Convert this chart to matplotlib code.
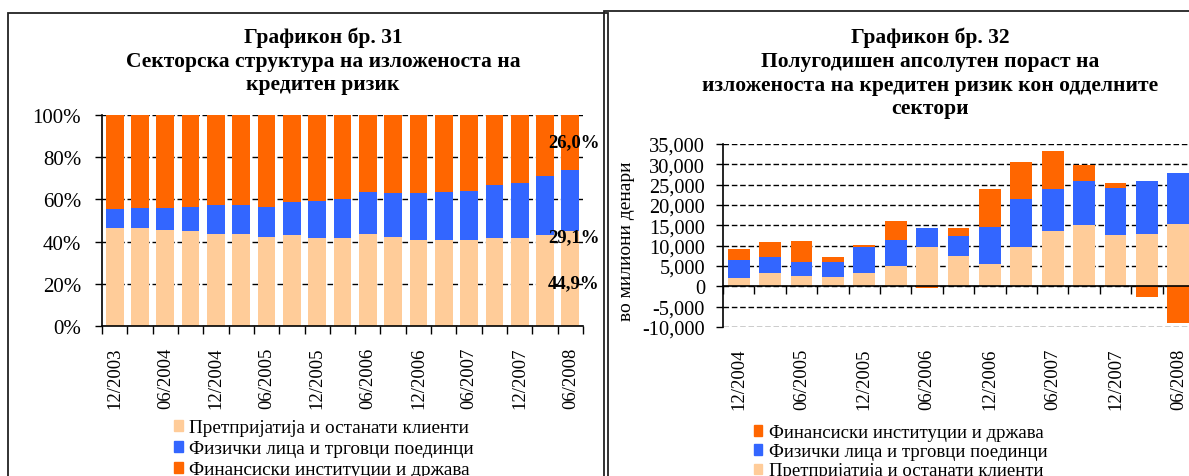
import numpy as np
import matplotlib
matplotlib.use("Agg")
import matplotlib.pyplot as plt
from matplotlib.patches import Rectangle, Patch
from matplotlib.ticker import FixedLocator, FuncFormatter

plt.rcParams['font.family'] = ['Liberation Serif', 'DejaVu Serif']

# ---------------- data: chart 31 (shares, %) ----------------
quarters_31 = ["12/2003", "03/2004", "06/2004", "09/2004", "12/2004", "03/2005",
               "06/2005", "09/2005", "12/2005", "03/2006", "06/2006", "09/2006",
               "12/2006", "03/2007", "06/2007", "09/2007", "12/2007", "03/2008",
               "06/2008"]
enterprises_31 = [46.3, 46.3, 45.7, 45.0, 43.6, 43.6, 42.4, 43.0, 41.7, 41.7,
                  43.6, 42.4, 40.9, 40.9, 40.9, 41.7, 41.7, 43.0, 44.9]
households_31 = [9.0, 9.6, 10.2, 11.6, 13.8, 13.8, 14.2, 15.8, 17.7, 18.7,
                 19.9, 20.5, 22.0, 22.6, 23.3, 25.3, 26.1, 28.1, 29.1]
financial_31 = [100 - a - b for a, b in zip(enterprises_31, households_31)]

# ---------------- data: chart 32 (mill. denars) ----------------
quarters_32 = ["12/2004", "03/2005", "06/2005", "09/2005", "12/2005", "03/2006",
               "06/2006", "09/2006", "12/2006", "03/2007", "06/2007", "09/2007",
               "12/2007", "03/2008", "06/2008"]
enterprises_32 = [2040, 3270, 2530, 2290, 3270, 4990, 9660, 7440, 5480, 9660,
                  13600, 15070, 12610, 12860, 15320]
households_32 = [4430, 3930, 3440, 3680, 6390, 6390, 4670, 4920, 9180, 11810,
                 10330, 10830, 11560, 13040, 12540]
financial_32 = [2700, 3690, 5170, 1230, 490, 4670, -300, 1970, 9270, 9100,
                9340, 3930, 1230, -2630, -9020]

lbl_ent = "Претпријатија и останати клиенти"
lbl_hh = "Физички лица и трговци поединци"
lbl_fin = "Финансиски институции и држава"

c_ent = "#FFCC99"
c_hh = "#3366FF"
c_fin = "#FF6600"

W, H = 1189, 477
fig = plt.figure(figsize=(W / 100, H / 100), dpi=100)


def px_axes(left, top, right, bottom):
    return fig.add_axes([left / W, 1 - bottom / H, (right - left) / W, (bottom - top) / H])


# panel frames
fig.patches.append(Rectangle((8 / W, -0.1), 600 / W, 1.1 - 14 / H, transform=fig.transFigure,
                             fill=False, ec="#222222", lw=1.3))
fig.patches.append(Rectangle((604 / W, -0.1), 0.5, 1.1 - 12 / H, transform=fig.transFigure,
                             fill=False, ec="#222222", lw=1.3))

grid_kw = dict(color="black", linestyle=(0, (4, 2)), linewidth=1.0)

# ---------------- chart 31 ----------------
ax1 = px_axes(102, 116, 583, 327)
x1 = np.arange(len(quarters_31))
ax1.bar(x1, enterprises_31, width=0.7, color=c_ent, label=lbl_ent, zorder=2)
ax1.bar(x1, households_31, width=0.7, bottom=enterprises_31, color=c_hh, label=lbl_hh, zorder=2)
ax1.bar(x1, financial_31, width=0.7, bottom=np.add(enterprises_31, households_31),
        color=c_fin, label=lbl_fin, zorder=2)
ax1.set_xlim(-0.5, len(x1) - 0.5)
ax1.set_ylim(0, 100)
ax1.set_yticks(np.arange(0, 101, 20))
ax1.yaxis.set_major_formatter(FuncFormatter(lambda v, p: f"{v:.0f}%"))
ax1.yaxis.grid(True, **grid_kw)
ax1.set_axisbelow(True)
ax1.xaxis.set_major_locator(FixedLocator(np.arange(-0.5, len(x1), 1.0)))
ax1.xaxis.set_major_formatter(FuncFormatter(lambda v, p: ""))
ax1.xaxis.set_minor_locator(FixedLocator(x1[::2]))
ax1.set_xticklabels([quarters_31[i] for i in x1[::2]], minor=True, rotation=90)
ax1.tick_params(axis='x', which='major', direction='out', length=6, width=1)
ax1.tick_params(axis='x', which='minor', length=0, pad=15, labelsize=13.5)
ax1.tick_params(axis='y', direction='out', length=5, width=1, pad=10, labelsize=15)
for s in ["top", "right"]:
    ax1.spines[s].set_visible(False)
for s in ["left", "bottom"]:
    ax1.spines[s].set_linewidth(1.2)

ax1.text(18.13, 87.1, "26,0%", ha="center", va="center", fontsize=13.5, fontweight="bold")
ax1.text(18.13, 42.5, "29,1%", ha="center", va="center", fontsize=13.5, fontweight="bold")
ax1.text(18.13, 20.7, "44,9%", ha="center", va="center", fontsize=13.5, fontweight="bold")

fig.text(323 / W, 1 - 28 / H, "Графикон бр. 31\nСекторска структура на изложеноста на\nкредитен ризик",
         ha="center", va="top", fontsize=15.5, fontweight="bold", linespacing=1.22)

h1 = [Patch(color=c_ent), Patch(color=c_hh), Patch(color=c_fin)]
fig.legend(h1, [lbl_ent, lbl_hh, lbl_fin], loc="upper left",
           bbox_to_anchor=(174 / W, 1 - 420 / H), frameon=False, fontsize=13.9,
           handlelength=0.45, handleheight=0.5, handletextpad=0.35, labelspacing=0.22,
           borderpad=0, borderaxespad=0)

# ---------------- chart 32 ----------------
ax2 = px_axes(723, 145, 1194, 328)
x2 = np.arange(len(quarters_32))
series = [(enterprises_32, c_ent, lbl_ent), (households_32, c_hh, lbl_hh), (financial_32, c_fin, lbl_fin)]
pos_base = np.zeros(len(x2))
neg_base = np.zeros(len(x2))
for vals, col, lab in series:
    vals = np.array(vals, dtype=float)
    bottom = np.where(vals >= 0, pos_base, neg_base)
    ax2.bar(x2, vals, width=0.69, bottom=bottom, color=col, label=lab, zorder=2)
    pos_base = pos_base + np.clip(vals, 0, None)
    neg_base = neg_base + np.clip(vals, None, 0)
ax2.set_xlim(-0.5, len(x2) - 0.5)
ax2.set_ylim(-10000, 35000)
ax2.set_yticks(np.arange(-10000, 35001, 5000))
ax2.yaxis.set_major_formatter(FuncFormatter(lambda v, p: f"{v:,.0f}"))
ax2.yaxis.grid(True, **grid_kw)
ax2.set_axisbelow(True)
ax2.spines["bottom"].set_position(("data", 0))
ax2.spines["bottom"].set_linewidth(1.2)
ax2.spines["bottom"].set_zorder(3)
ax2.spines["left"].set_linewidth(1.2)
for s in ["top", "right"]:
    ax2.spines[s].set_visible(False)
ax2.xaxis.set_major_locator(FixedLocator(np.arange(-0.5, len(x2), 1.0)))
ax2.xaxis.set_major_formatter(FuncFormatter(lambda v, p: ""))
ax2.xaxis.set_minor_locator(FixedLocator(x2[::2]))
ax2.set_xticklabels([quarters_32[i] for i in x2[::2]], minor=True, rotation=90)
ax2.tick_params(axis='x', which='major', direction='out', length=6, width=1)
ax2.tick_params(axis='x', which='minor', length=0, pad=44, labelsize=13.5)
ax2.tick_params(axis='y', direction='out', length=5, width=1, pad=8, labelsize=14.7)
ax2.set_ylabel("во милиони денари", fontsize=14)
ax2.yaxis.set_label_coords((635 - 723) / 471, 0.475)

fig.text(930 / W, 1 - 28 / H,
         "Графикон бр. 32\nПолугодишен апсолутен пораст на\nизложеноста на кредитен ризик кон одделните\nсектори",
         ha="center", va="top", fontsize=15.5, fontweight="bold", linespacing=1.24)

h2 = [Patch(color=c_fin), Patch(color=c_hh), Patch(color=c_ent)]
fig.legend(h2, [lbl_fin, lbl_hh, lbl_ent], loc="upper left",
           bbox_to_anchor=(754 / W, 1 - 425 / H), frameon=False, fontsize=13.5,
           handlelength=0.45, handleheight=0.5, handletextpad=0.35, labelspacing=0.12,
           borderpad=0, borderaxespad=0)

fig.savefig("out.png", dpi=100)
